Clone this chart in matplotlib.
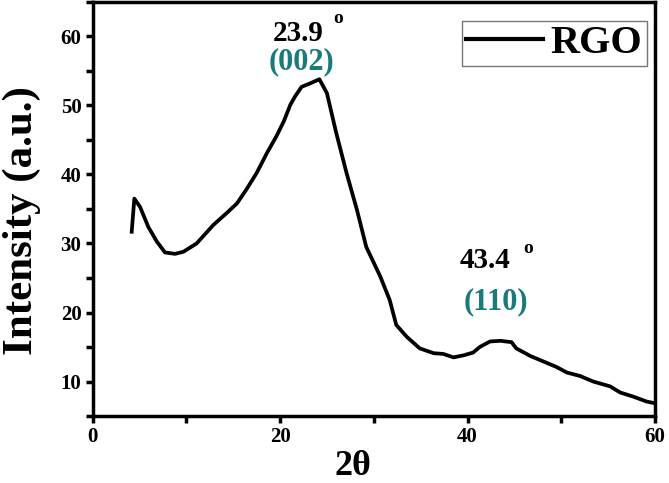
import numpy as np
import matplotlib.pyplot as plt
from matplotlib.ticker import MultipleLocator

# XRD pattern of RGO
two_theta = [4.18, 4.46, 5.07, 5.95, 6.85, 7.73, 8.8, 9.69, 11.1, 12.9, 14.3,
             15.4, 16.4, 17.5, 18.6, 19.6, 20.4, 21.1, 21.6, 22.3, 23.2, 24.2,
             25.0, 26.0, 27.1, 28.2, 29.2, 30.7, 31.7, 32.4, 33.5, 34.9, 36.4,
             37.4, 38.5, 39.6, 40.6, 41.3, 42.4, 43.5, 44.7, 45.2, 46.7, 48.1,
             49.5, 50.6, 52.0, 53.4, 55.2, 56.3, 57.7, 59.1, 59.8]
intensity = [31.7, 36.5, 35.3, 32.4, 30.3, 28.7, 28.5, 28.8, 30.0, 32.7, 34.4,
             35.8, 37.8, 40.2, 43.1, 45.5, 47.7, 50.1, 51.3, 52.7, 53.2, 53.8,
             51.8, 46.0, 40.2, 34.9, 29.5, 25.2, 21.8, 18.2, 16.5, 14.8, 14.1,
             14.0, 13.5, 13.8, 14.2, 15.0, 15.8, 15.9, 15.7, 14.8, 13.7, 12.9,
             12.1, 11.3, 10.8, 10.0, 9.3, 8.4, 7.8, 7.1, 6.9]

peak_pos = ["23.9", "43.4"]
peak_hkl = ["(002)", "(110)"]

plt.rcParams['font.family'] = ['Liberation Serif', 'DejaVu Serif']
plt.rcParams['font.weight'] = 'bold'

fig = plt.figure(figsize=(6.69, 4.83), dpi=100)
ax = fig.add_axes([0.1383, 0.1387, 0.8408, 0.8572])

ax.plot(two_theta, intensity, color='black', lw=2.7, label='RGO',
        solid_joinstyle='round')

ax.set_xlim(0, 60)
ax.set_ylim(5, 65)
ax.xaxis.set_major_locator(MultipleLocator(20))
ax.xaxis.set_minor_locator(MultipleLocator(10))
ax.set_yticks([10, 20, 30, 40, 50, 60])
ax.yaxis.set_minor_locator(MultipleLocator(5))
ax.tick_params(which='both', direction='out', width=2.5, labelsize=15, pad=3)
ax.tick_params(which='major', length=5)
ax.tick_params(which='minor', length=5)
for s in ax.spines.values():
    s.set_linewidth(2.5)

ax.set_xlabel('2θ', fontsize=26, fontweight='bold', va='center')
ax.xaxis.set_label_coords(0.463, -0.122)
ax.set_ylabel('Intensity (a.u.)', fontsize=31, fontweight='bold', va='center')
ax.yaxis.set_label_coords(-0.126, 0.473)

teal = '#1b7b7b'
ax.text(21.9, 60.4, peak_pos[0], fontsize=21, ha='center', va='center')
ax.text(26.2, 62.6, 'o', fontsize=14, ha='center', va='center')
ax.text(22.3, 56.3, peak_hkl[0], fontsize=22, ha='center', va='center', color=teal)
ax.text(41.9, 27.6, peak_pos[1], fontsize=21, ha='center', va='center')
ax.text(46.5, 29.3, 'o', fontsize=14, ha='center', va='center')
ax.text(43.0, 21.5, peak_hkl[1], fontsize=22, ha='center', va='center', color=teal)

leg = ax.legend(loc='upper right', fontsize=29, frameon=True, fancybox=False,
                handlelength=1.9, handletextpad=0.2, borderpad=0.1,
                borderaxespad=0, bbox_to_anchor=(0.985, 0.955))
leg.get_frame().set_edgecolor('#555555')
leg.get_frame().set_linewidth(1)
leg.get_lines()[0].set_linewidth(3)

fig.savefig('out.png', dpi=100)
